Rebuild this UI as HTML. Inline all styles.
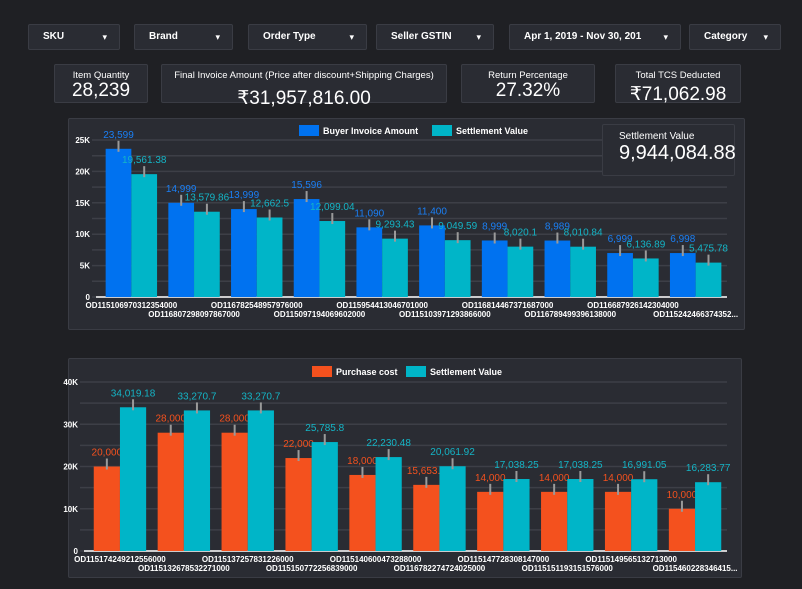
<!DOCTYPE html>
<html><head><meta charset="utf-8"><style>
body{margin:0;width:802px;height:589px;background:#1f2024;font-family:"Liberation Sans","DejaVu Sans",sans-serif;color:#fff;position:relative;overflow:hidden}
.dd,.kpi,.panel,.card{position:absolute;background:#2a2c33;border:1px solid #3a3c44;border-radius:2px;box-sizing:border-box}
.dd{top:24px;height:26px;font-size:10px;font-weight:bold;line-height:24px;padding-left:14px}
.dd:after{content:"▾";position:absolute;right:12px;font-size:9px}
.kpi{top:64px;height:39px;text-align:center}
.kpi .t{font-size:9.5px;margin-top:5px}
.kpi .v{font-size:19px;line-height:20px}
svg text{font-family:"Liberation Sans","DejaVu Sans",sans-serif}
</style></head><body>
<div class="dd" style="left:28px;width:92px">SKU</div>
<div class="dd" style="left:134px;width:99px">Brand</div>
<div class="dd" style="left:248px;width:119px">Order Type</div>
<div class="dd" style="left:376px;width:118px">Seller GSTIN</div>
<div class="dd" style="left:509px;width:172px">Apr 1, 2019 - Nov 30, 201</div>
<div class="dd" style="left:689px;width:92px">Category</div>
<div class="kpi" style="left:54px;width:94px"><div class="t">Item Quantity</div><div class="v">28,239</div></div>
<div class="kpi" style="left:161px;width:286px"><div class="t">Final Invoice Amount (Price after discount+Shipping Charges)</div><div class="v" style="margin-top:8px">₹31,957,816.00</div></div>
<div class="kpi" style="left:461px;width:134px"><div class="t">Return Percentage</div><div class="v">27.32%</div></div>
<div class="kpi" style="left:615px;width:126px"><div class="t">Total TCS Deducted</div><div class="v" style="margin-top:4px">₹71,062.98</div></div>
<div class="panel" style="left:68px;top:118px;width:677px;height:212px"></div>
<div class="panel" style="left:68px;top:358px;width:674px;height:220px"></div>
<svg id="s" width="802" height="589" style="position:absolute;left:0;top:0"></svg>
<div class="card" style="left:602px;top:124px;width:133px;height:52px;background:#2a2c33"><div style="font-size:10px;margin:6px 0 0 16px">Settlement Value</div><div style="font-size:20px;margin-left:16px">9,944,084.88</div></div>
<script>
const c1Cats=["OD115106970312354000","OD116807298097867000","OD116782548957976000","OD115097194069602000","OD115954413046701000","OD115103971293866000","OD116814467371687000","OD116789499396138000","OD116687926142304000","OD115242466374352..."];
const c1Buyer=[23599,14999,13999,15596,11090,11400,8999,8989,6999,6998];
const c1Settle=[19561.38,13579.86,12662.5,12099.04,9293.43,9049.59,8020.1,8010.84,6136.89,5475.78];
const c1Ticks=[0,5000,10000,15000,20000,25000];
const c1TickLabels=["0","5K","10K","15K","20K","25K"];
const c2Cats=["OD115174249212556000","OD115132678532271000","OD115137257831226000","OD115150772256839000","OD115140600473288000","OD116782274724025000","OD115147728308147000","OD115151193151576000","OD115149565132713000","OD115460228346415..."];
const c2Purchase=[20000,28000,28000,22000,18000,15653.4,14000,14000,14000,10000];
const c2Settle=[34019.18,33270.7,33270.7,25785.8,22230.48,20061.92,17038.25,17038.25,16991.05,16283.77];
const c2Ticks=[0,10000,20000,30000,40000];
const c2TickLabels=["0","10K","20K","30K","40K"];
const svg=document.getElementById('s');const NS="http://www.w3.org/2000/svg";
function mk(t,a,txt){const e=document.createElementNS(NS,t);for(const k in a)e.setAttribute(k,a[k]);if(txt!==undefined)e.textContent=txt;svg.appendChild(e);return e;}
function fmt(v){return v.toLocaleString('en-US',{maximumFractionDigits:2});}
function chart(o){
 const y=v=>o.y0-(v/o.max)*(o.y0-o.yTop);
 for(let v=0;v<=o.max;v+=o.minor){const g=mk('line',{x1:o.x0-8,x2:o.x1,y1:y(v),y2:y(v),stroke:'#3d3f47','stroke-width':1.5});}
 o.ticks.forEach((v,i)=>{const t=mk('text',{x:o.x0-10,y:y(v)+3,'font-size':8,fill:'#fff','text-anchor':'end','font-weight':'bold'},o.tickLabels[i]);});
 mk('line',{x1:o.x0-4,x2:o.x1,y1:o.y0,y2:o.y0,stroke:'#fff','stroke-width':1.5});
 const gw=(o.x1-o.x0)/o.cats.length,bw=gw*0.41;
 const series=[[o.s1,o.c1,o.l1],[o.s2,o.c2,o.l2]];
 o.cats.forEach((cat,i)=>{const gx=o.x0+i*gw+gw/2;
  series.forEach((s,j)=>{const v=s[0][i],bx=gx-bw+j*bw,top=y(v);
   const r=mk('rect',{x:bx,y:top,width:bw,height:o.y0-top,fill:s[1]});
   mk('line',{x1:bx+bw/2,x2:bx+bw/2,y1:top+3,y2:top-8,stroke:'#9a9a9a','stroke-width':2});
   const l=mk('text',{x:bx+bw/2,y:top-11,'font-size':10,fill:s[2],'text-anchor':'middle'},fmt(v));
  });
  const xl=mk('text',{x:gx,y:o.y0+(i%2?20:11),'font-size':8,fill:'#fff','text-anchor':'middle','font-weight':'bold'},cat);
 });
}
chart({x0:100,x1:727,y0:297,yTop:140,max:25000,minor:2500,ticks:c1Ticks,tickLabels:c1TickLabels,cats:c1Cats,s1:c1Buyer,s2:c1Settle,c1:'#0072f0',c2:'#00b5c8',l1:'#1a7ff5',l2:'#14b5c6'});
chart({x0:88,x1:727,y0:551,yTop:382,max:40000,minor:5000,ticks:c2Ticks,tickLabels:c2TickLabels,cats:c2Cats,s1:c2Purchase,s2:c2Settle,c1:'#f4511e',c2:'#00b5c8',l1:'#f4511e',l2:'#14b5c6'});
function leg(x,y,col,txt,nm){const r=mk('rect',{x:x,y:y,width:20,height:11,fill:col});mk('text',{x:x+24,y:y+9,'font-size':9,fill:'#fff','font-weight':'bold'},txt);}
leg(299,125,'#0072f0','Buyer Invoice Amount','legend-buyer-invoice');
leg(432,125,'#00b5c8','Settlement Value','legend-settlement-value');
leg(312,366,'#f4511e','Purchase cost','legend-purchase-cost');
leg(406,366,'#00b5c8','Settlement Value','legend-settlement-value-2');
</script>
</body></html>
